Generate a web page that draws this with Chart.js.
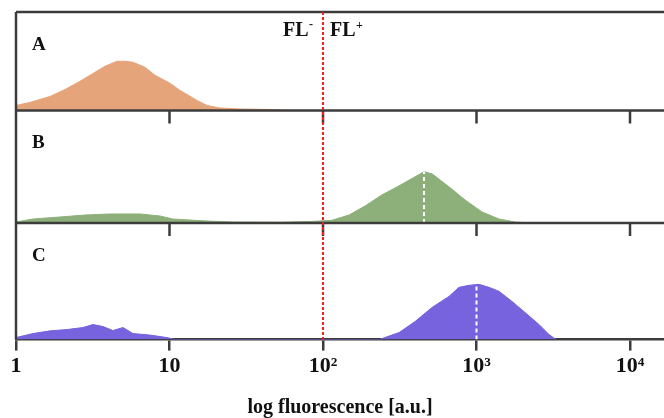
<!DOCTYPE html>
<html>
<head>
<meta charset="utf-8">
<script src="https://cdn.jsdelivr.net/npm/chart.js@4"></script>
<style>
  body { margin: 0; background: #fff; }
  canvas { display: block; }
</style>
</head>
<body>
<canvas id="myChart" width="664" height="418"></canvas>
<script>
'use strict'

// fluorescence values (x) and counts (y)
let aX = [1, 1.23, 1.67, 2.09, 2.61, 3.27, 3.8, 4.55, 5.13, 5.78, 6.92, 8.05, 10.1, 11.7, 13, 15.1, 17.6, 21.3, 28.8, 45, 61];
let aY = [5, 8, 14, 21, 29, 38, 44, 49, 49, 48, 43, 35, 27, 20, 16, 10, 5, 2.5, 1.5, 1, 0];

let bX = [1, 1.29, 1.93, 2.82, 4.1, 6.42, 8.67, 10.5, 13.6, 17.6, 25.9, 52.5, 82, 114, 148, 188, 242, 313, 398, 455, 513, 662, 842, 1086, 1402, 1781, 2300];
let bY = [1, 4, 6, 8, 9, 9, 7, 4, 3, 2, 1, 0.8, 1.5, 2.7, 8, 17, 28, 37, 46, 51, 49, 36, 23, 11, 4, 1, 0];

let cX = [1, 1.29, 1.67, 2.15, 2.73, 3.17, 3.69, 4.28, 4.98, 5.78, 7.46, 9.63, 10.9, 232, 313, 398, 513, 662, 769, 894, 1038, 1206, 1402, 1703, 2070, 2554, 2967, 3300];
let cY = [2, 6, 8.7, 10, 12, 15, 13, 9, 12, 6, 4.5, 2, 0, 0, 7, 18, 32, 43, 52, 54, 55, 52, 48, 38, 27, 15, 5, 0];

// median markers (white dashed)
let bMedian = 455;
let bMedianTop = 51;
let cMedian = 1000;
let cMedianTop = 55;

let gate = 100;
let panelNames = ['A', 'B', 'C'];
let panelMax = [98, 112, 116];

let tickVals = [1, 10, 100, 1000, 10000];
let tickLabels = ['1', '10', '10²', '10³', '10⁴'];
let xMax = 16650;

let frameColor = '#3c3c3c';
let serif = "'Liberation Serif', 'Times New Roman', serif";

function toPoints(xs, ys) {
    let pts = [];
    for (let i = 0; i < xs.length; i++) {
        pts.push({ x: xs[i], y: ys[i] });
    }
    return pts;
}

function histo(xs, ys, color, axis) {
    return {
        data: toPoints(xs, ys),
        yAxisID: axis,
        borderColor: color,
        backgroundColor: color,
        borderWidth: 1,
        pointRadius: 0,
        tension: 0,
        fill: 'origin',
        order: 1
    };
}

function median(x, top, axis) {
    return {
        data: [{ x: x, y: 0 }, { x: x, y: top }],
        yAxisID: axis,
        borderColor: '#ffffff',
        borderWidth: 2,
        borderDash: [4, 3],
        pointRadius: 0,
        fill: false,
        order: 0
    };
}

function panelAxis(i) {
    return {
        type: 'linear',
        position: 'left',
        stack: 'panels',
        stackWeight: panelMax[i],
        min: 0,
        max: panelMax[i],
        display: false
    };
}

let framePlugin = {
    id: 'frame',
    afterDatasetsDraw(chart) {
        let ctx = chart.ctx;
        let area = chart.chartArea;
        let xs = chart.scales.x;
        let panels = [chart.scales.yA, chart.scales.yB, chart.scales.yC];

        ctx.save();
        ctx.strokeStyle = frameColor;
        ctx.lineWidth = 2.5;
        ctx.beginPath();
        ctx.moveTo(area.left, area.top);
        ctx.lineTo(area.right, area.top);
        ctx.moveTo(area.left, area.top);
        ctx.lineTo(area.left, area.bottom);
        for (let i = 0; i < 2; i++) {
            ctx.moveTo(area.left, panels[i].bottom);
            ctx.lineTo(area.right, panels[i].bottom);
        }
        // small ticks hanging from the top of B and C
        for (let i = 1; i < 3; i++) {
            for (let j = 1; j < tickVals.length; j++) {
                let px = xs.getPixelForValue(tickVals[j]);
                ctx.moveTo(px, panels[i].top);
                ctx.lineTo(px, panels[i].top + 13);
            }
        }
        ctx.stroke();

        // gate line
        let gx = xs.getPixelForValue(gate);
        ctx.strokeStyle = '#f0201c';
        ctx.lineWidth = 2;
        ctx.setLineDash([3, 2]);
        ctx.beginPath();
        ctx.moveTo(gx, area.top);
        ctx.lineTo(gx, area.bottom);
        ctx.stroke();
        ctx.setLineDash([]);

        ctx.fillStyle = '#111';
        ctx.textBaseline = 'alphabetic';
        ctx.textAlign = 'left';
        ctx.font = 'bold 19px ' + serif;
        for (let i = 0; i < 3; i++) {
            ctx.fillText(panelNames[i], area.left + 16, panels[i].top + 38);
        }

        ctx.font = 'bold 20px ' + serif;
        ctx.fillText('FL', gx - 40, area.top + 24);
        ctx.fillText('FL', gx + 7, area.top + 24);
        ctx.font = 'bold 12px ' + serif;
        ctx.fillText('-', gx - 14, area.top + 16);
        ctx.fillText('+', gx + 33, area.top + 17);
        ctx.restore();
    }
};

let ctx = document.getElementById('myChart').getContext('2d');
let myChart = new Chart(ctx, {
    type: 'line',
    data: {
        datasets: [
            median(bMedian, bMedianTop, 'yB'),
            median(cMedian, cMedianTop, 'yC'),
            histo(aX, aY, '#e6a47a', 'yA'),
            histo(bX, bY, '#8db07a', 'yB'),
            histo(cX, cY, '#7763dd', 'yC')
        ]
    },
    options: {
        responsive: false,
        animation: false,
        layout: {
            padding: { left: 16, right: 0, top: 12, bottom: 0 }
        },
        plugins: {
            legend: { display: false },
            tooltip: { enabled: false }
        },
        scales: {
            x: {
                type: 'logarithmic',
                min: 1,
                max: xMax,
                afterBuildTicks: function (axis) {
                    axis.ticks = tickVals.map(function (v) { return { value: v }; });
                },
                ticks: {
                    autoSkip: false,
                    maxRotation: 0,
                    padding: 3,
                    color: '#111',
                    font: { family: serif, size: 22, weight: 'bold' },
                    callback: function (value, index) {
                        return tickLabels[index];
                    }
                },
                grid: {
                    drawOnChartArea: false,
                    drawTicks: true,
                    tickLength: 11,
                    color: frameColor,
                    lineWidth: 2.5
                },
                border: { display: true, color: frameColor, width: 2.5 },
                title: {
                    display: true,
                    text: 'log fluorescence [a.u.]',
                    color: '#111',
                    font: { family: serif, size: 20, weight: 'bold', lineHeight: 1 },
                    padding: { top: 15, bottom: 0 }
                }
            },
            // the last stacked axis ends up on top
            yC: panelAxis(2),
            yB: panelAxis(1),
            yA: panelAxis(0)
        }
    },
    plugins: [framePlugin]
});
</script>
</body>
</html>
